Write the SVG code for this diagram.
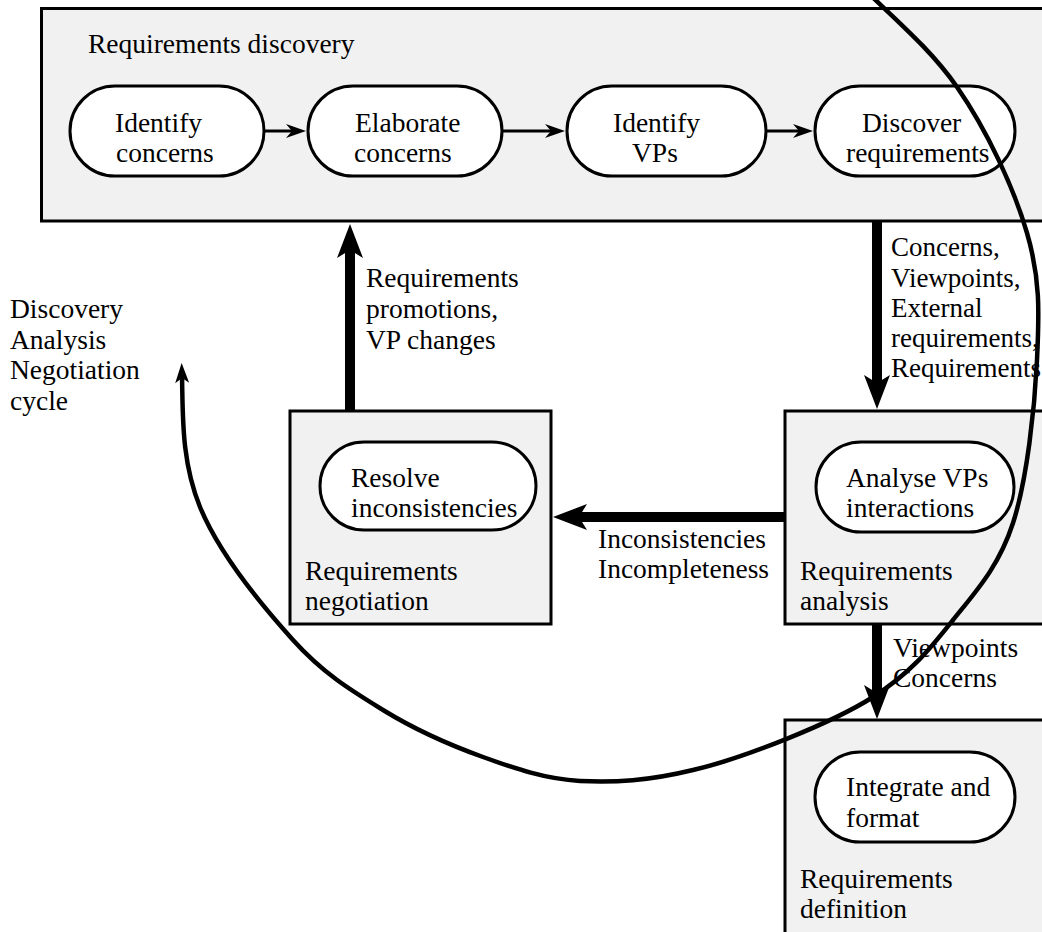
<svg xmlns="http://www.w3.org/2000/svg" width="1042" height="932" viewBox="0 0 1042 932" font-family="Liberation Serif, DejaVu Serif, serif">
<style>
  .box { fill: #f1f1f1; stroke: #000; stroke-width: 3; }
  .pill { fill: #fff; stroke: #000; stroke-width: 3; }
  text { font-size: 27.5px; fill: #000; }
  text.edge { font-size: 27px; }
  .thin { stroke: #000; stroke-width: 3; fill: none; marker-end: url(#headThin); }
  .thick { stroke: #000; stroke-width: 10; fill: none; marker-end: url(#headThick); }
  .cycle { stroke: #000; stroke-width: 4.5; fill: none; marker-end: url(#headCycle); }
</style>
<defs>
  <marker id="headThin" markerUnits="userSpaceOnUse" viewBox="-24 -10 26 20" refX="-13" refY="0" markerWidth="26" markerHeight="20" orient="auto">
    <path d="M0,0 L-20,-7 L-14,0 L-20,7 Z" fill="#000"/>
  </marker>
  <marker id="headThick" markerUnits="userSpaceOnUse" viewBox="-38 -16 40 32" refX="-24" refY="0" markerWidth="40" markerHeight="32" orient="auto">
    <path d="M0,0 L-34,-13 L-26,0 L-34,13 Z" fill="#000"/>
  </marker>
  <marker id="headCycle" markerUnits="userSpaceOnUse" viewBox="-24 -10 26 20" refX="-14" refY="0" markerWidth="26" markerHeight="20" orient="auto">
    <path d="M0,0 L-20,-7 L-15,0 L-20,7 Z" fill="#000"/>
  </marker>
</defs>

<g id="discovery">
  <rect class="box" x="41.5" y="8.5" width="1020" height="212.5"/>
  <text x="88" y="53">Requirements discovery</text>
</g>
<g id="identify-concerns">
  <rect class="pill" x="70" y="86" width="194" height="90" rx="45"/>
  <text x="115" y="132">Identify</text>
  <text x="116" y="162">concerns</text>
</g>
<g id="elaborate-concerns">
  <rect class="pill" x="308" y="86" width="194" height="90" rx="45"/>
  <text x="355" y="132">Elaborate</text>
  <text x="354" y="162">concerns</text>
</g>
<g id="identify-vps">
  <rect class="pill" x="567" y="86" width="199" height="90" rx="45"/>
  <text x="613" y="132">Identify</text>
  <text x="632" y="162">VPs</text>
</g>
<g id="discover-requirements">
  <rect class="pill" x="815" y="86" width="200" height="90" rx="45"/>
  <text x="862" y="132">Discover</text>
  <text x="846" y="162">requirements</text>
</g>

<g id="negotiation">
  <rect class="box" x="290" y="411" width="261" height="213"/>
  <rect class="pill" x="320" y="442" width="216" height="88" rx="44"/>
  <text x="351" y="487">Resolve</text>
  <text x="351" y="517">inconsistencies</text>
  <text x="305" y="580">Requirements</text>
  <text x="305" y="610">negotiation</text>
</g>
<g id="analysis">
  <rect class="box" x="785" y="411" width="270" height="213"/>
  <rect class="pill" x="816" y="442" width="198" height="90" rx="45"/>
  <text x="846" y="487">Analyse VPs</text>
  <text x="846" y="517">interactions</text>
  <text x="800" y="580">Requirements</text>
  <text x="800" y="610">analysis</text>
</g>
<g id="definition">
  <rect class="box" x="785" y="720" width="270" height="230"/>
  <rect class="pill" x="815" y="752" width="200" height="90" rx="45"/>
  <text x="846" y="796">Integrate and</text>
  <text x="846" y="827">format</text>
  <text x="800" y="888">Requirements</text>
  <text x="800" y="918">definition</text>
</g>

<g id="cycle-label">
  <text x="10" y="318">Discovery</text>
  <text x="10" y="349">Analysis</text>
  <text x="10" y="379">Negotiation</text>
  <text x="10" y="410">cycle</text>
</g>

<g id="connectors">
  <line class="thin" x1="265" y1="131" x2="293" y2="131"/>
  <line class="thin" x1="503" y1="131" x2="552" y2="131"/>
  <line class="thin" x1="767" y1="131" x2="800" y2="131"/>

  <line class="thick" x1="350" y1="410" x2="350" y2="248"/>
  <text x="366" y="287">Requirements</text>
  <text x="366" y="318">promotions,</text>
  <text x="366" y="349">VP changes</text>

  <line class="thick" x1="877" y1="222" x2="877" y2="385"/>
  <text class="edge" x="891" y="256">Concerns,</text>
  <text class="edge" x="891" y="287">Viewpoints,</text>
  <text class="edge" x="891" y="317">External</text>
  <text class="edge" x="891" y="347">requirements,</text>
  <text class="edge" x="891" y="377">Requirements</text>

  <line class="thick" x1="785" y1="517" x2="577" y2="517"/>
  <text x="598" y="548">Inconsistencies</text>
  <text x="598" y="578">Incompleteness</text>

  <line class="thick" x1="877" y1="625" x2="877" y2="695"/>
  <text x="893" y="657">Viewpoints</text>
  <text x="893" y="687">Concerns</text>

  <path class="cycle" d="M845,-30 C882.3,9 926.7,43.2 957,87 C987.3,130.8 1013.7,187.5 1027,233 C1040.3,278.5 1039.3,311.7 1037,360 C1034.7,408.3 1027,479.7 1013,523 C999,566.3 976.3,591 953,620 C929.7,649 912,672 873,697 C834,722 745,758 693,770 C648,781 615,782.5 580,781 C545,779 515.8,768.8 483,757 C450.2,745.2 414.7,729.5 383,710 C351.3,690.5 323.5,673.8 293,640 C262.5,606.2 218.8,552.8 200,507 C181.2,461.2 183,415 182,377"/>
</g>
</svg>
